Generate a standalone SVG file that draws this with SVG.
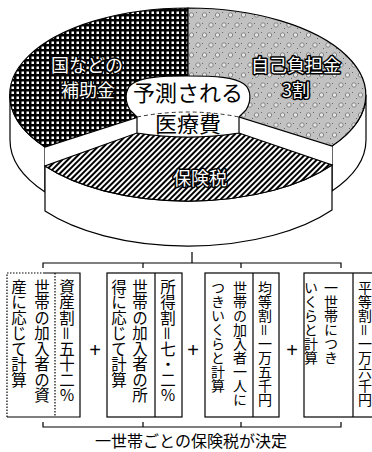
<svg xmlns="http://www.w3.org/2000/svg" width="372" height="452" viewBox="0 0 372 452">
<style>
.ln{fill:none;stroke:#000;stroke-width:1.2}
.wf{fill:#fff;stroke:#000;stroke-width:1.2;stroke-linejoin:round}
.wt{fill:#fff;stroke:#000;stroke-width:3;paint-order:stroke;stroke-linejoin:round;font-family:"Noto Sans CJK JP","Noto Sans CJK SC",sans-serif;font-size:18px;text-anchor:middle}
.bt{fill:#000;font-family:"Noto Sans CJK JP","Noto Sans CJK SC",sans-serif;font-size:22px;text-anchor:middle}
.vt{fill:#000;font-family:"Noto Sans CJK JP","Noto Sans CJK SC",sans-serif;writing-mode:vertical-rl}
.v1{font-size:15.5px}
.v2{font-size:14px}
.pl{fill:#000;font-family:"Liberation Sans",sans-serif;font-size:20px;text-anchor:middle}
.ft{fill:#000;font-family:"Noto Sans CJK JP","Noto Sans CJK SC",sans-serif;font-size:16px;text-anchor:middle}
</style>
<defs>
<pattern id="grid" width="5" height="5" patternUnits="userSpaceOnUse">
<rect width="5" height="5" fill="#000"/>
<rect x="1.5" y="1.5" width="2.5" height="2.5" fill="#fff"/>
</pattern>
<pattern id="dots" width="13" height="20" patternUnits="userSpaceOnUse">
<rect width="13" height="20" fill="#c2c2c2"/>
<circle cx="3" cy="5" r="2.2" fill="#e6e6e6" stroke="#707070" stroke-width="0.8"/>
<circle cx="9.5" cy="15" r="2.2" fill="#e6e6e6" stroke="#707070" stroke-width="0.8"/>
<rect x="7" y="3" width="1" height="1" fill="#666"/>
<rect x="1" y="12" width="1" height="1" fill="#666"/>
<rect x="11" y="8" width="1" height="1" fill="#666"/>
<rect x="5" y="18" width="1" height="1" fill="#666"/>
</pattern>
<pattern id="hatch" width="4" height="4" patternUnits="userSpaceOnUse" patternTransform="rotate(45)">
<rect width="4" height="4" fill="#fff"/>
<rect width="2" height="4" fill="#000"/>
</pattern>
</defs>

<g id="pie">
<g id="back-walls">
<path class="wf" d="M10,95 A178,87 0 0 0 45,147 L45,192 A178,87 0 0 1 10,140 Z"/>
<path class="wf" d="M366,95 A178,87 0 0 1 332,146 L332,191 A178,87 0 0 0 366,140 Z"/>
<polygon fill="#fff" points="45,147 188,101 188,150 45,192"/>
<polygon fill="#fff" points="332,146 188,101 188,150 332,191"/>
</g>
<g id="node-subsidy">
<path d="M45,147 A178,87 0 0 1 188,8 L188,101 Z" fill="url(#grid)" stroke="#000" stroke-width="1.2"/>
<text class="wt" x="87" y="72">国などの</text>
<text class="wt" x="88" y="97">補助金</text>
</g>
<g id="node-self">
<path d="M188,8 A178,87 0 0 1 332,146 L188,101 Z" fill="url(#dots)" stroke="#000" stroke-width="1.2"/>
<text class="wt" x="296" y="72">自己負担金</text>
<text class="wt" x="296" y="97">3割</text>
</g>
<g id="node-tax">
<path class="wf" d="M45,166 A178,87 0 0 0 332,165 L332,210 A178,87 0 0 1 45,211 Z"/>
<path d="M45,166 A178,87 0 0 0 332,165 L239,133 Q188,141 137,133 Z" fill="url(#hatch)" stroke="#000" stroke-width="1.2"/>
<text class="wt" x="200" y="185">保険税</text>
</g>
<g id="node-center">
<path class="wf" d="M130,110 C125,102 124,90 132,84 C142,77 160,76 188,76 C216,76 234,77 244,84 C252,90 251,102 246,110 L239,117 L239,133 Q188,141 137,133 L137,117 Z"/>
<path d="M137,117 Q188,107 239,117" fill="none" stroke="#000" stroke-width="0.8" stroke-dasharray="4 3"/>
<text class="bt" x="188" y="101">予測される</text>
<text class="bt" x="188" y="132">医療費</text>
</g>
</g>

<g id="connectors">
<path class="ln" d="M192,252 V263 M43,268 V263 H341 V268 M143,263 V268 M241,263 V268"/>
<path class="ln" d="M43,422 V427 H341 V422 M143,427 V422 M241,427 V422"/>
</g>

<g id="box-asset">
<path class="ln" d="M43,273 H80 V417 H7"/>
<path class="ln" stroke-dasharray="1.5 1.5" d="M7,417 V273 H43 M55,273 V417"/>
<text class="vt v1" x="67" y="279">資産割＝五十二％</text>
<text class="vt v1" x="42" y="279">世帯の加入者の資</text>
<text class="vt v1" x="19" y="279">産に応じて計算</text>
</g>
<text class="pl" x="95" y="357">+</text>
<g id="box-income">
<rect class="ln" x="107" y="273" width="75" height="144"/>
<path class="ln" d="M155,273 V417"/>
<text class="vt v1" x="168" y="279">所得割＝七・二％</text>
<text class="vt v1" x="140" y="279">世帯の加入者の所</text>
<text class="vt v1" x="119" y="279">得に応じて計算</text>
</g>
<text class="pl" x="193" y="357">+</text>
<g id="box-equal">
<rect class="ln" x="205" y="273" width="74" height="144"/>
<path class="ln" d="M253,273 V417"/>
<text class="vt v2" x="265" y="281">均等割＝一万五千円</text>
<text class="vt v2" x="240" y="281">世帯の加入者一人に</text>
<text class="vt v2" x="218" y="281">つきいくらと計算</text>
</g>
<text class="pl" x="292" y="357">+</text>
<g id="box-flat">
<rect class="ln" x="304" y="273" width="80" height="144"/>
<path class="ln" d="M353,273 V417"/>
<text class="vt v2" x="365" y="281">平等割＝一万六千円</text>
<text class="vt v2" x="331" y="281">一世帯につき</text>
<text class="vt v2" x="311" y="281">いくらと計算</text>
</g>
<text class="ft" x="191" y="447">一世帯ごとの保険税が決定</text>
</svg>
